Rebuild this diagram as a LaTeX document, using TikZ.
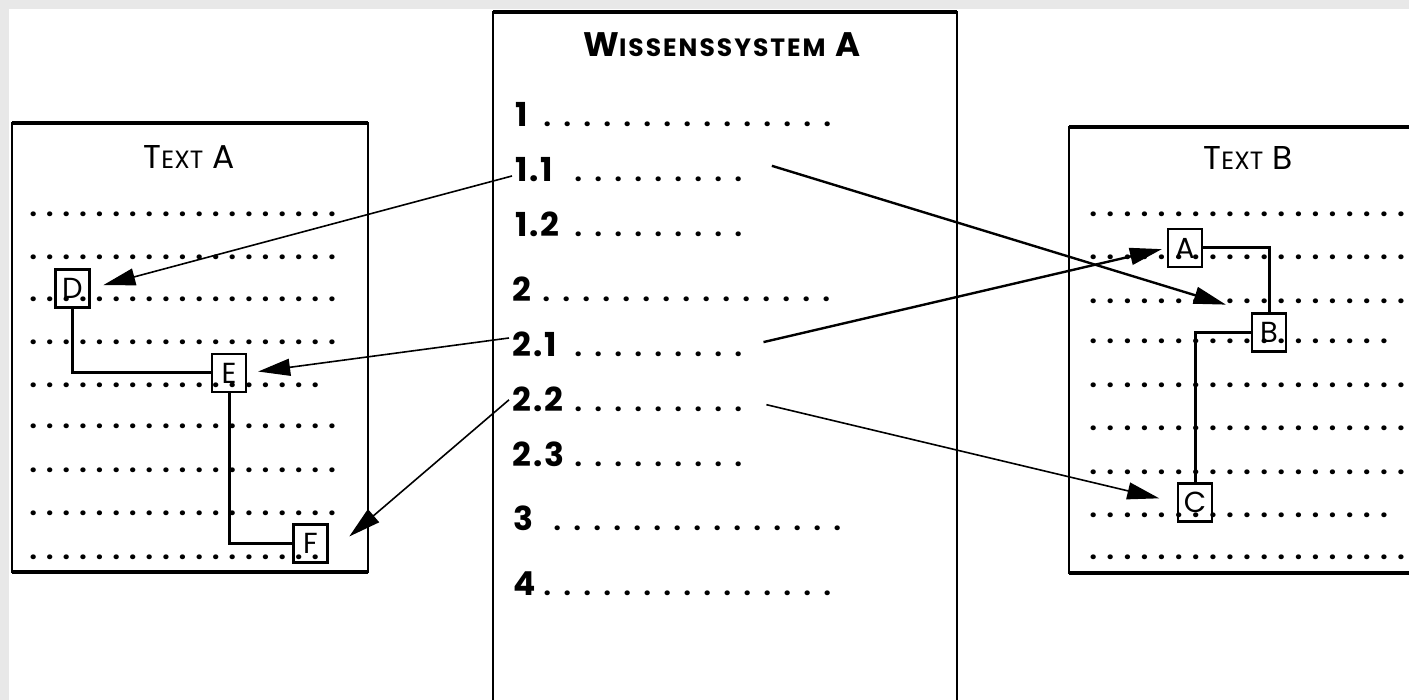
\documentclass[tikz,border=0pt]{standalone}
\usepackage{fontspec}
\setmainfont{Poppins}
\usepackage{tikz}
\usetikzlibrary{arrows.meta}
\definecolor{rand}{HTML}{E8E8E8}
% eine Zeile Punkte: #1 Anzahl, #2 Abstand
\newcommand\punkte[2]{\hbox to \dimexpr#2*#1+0.5pt\relax{\leaders\hbox to #2{\hss.\hss}\hfill}}
\newcommand\klein[1]{{\fontsize{25}{25}\selectfont #1}}

\begin{document}
\begin{tikzpicture}[x=1pt,y=-1pt,
  rahmen/.style={line width=2pt},
  kante/.style={line width=3.5pt},
  marke/.style={draw,line width=2.5pt,minimum width=34pt,minimum height=38pt,inner sep=0pt,font=\fontsize{29}{29}\selectfont},
  zeile/.style={anchor=base west,inner sep=0pt,font=\fontsize{26}{26}\bfseries},
  nummer/.style={anchor=base west,inner sep=3pt,font=\fontsize{33}{33}\bfseries\addfontfeature{LetterSpace=6}},
  pfeil/.style={line width=1.6pt,-{Triangle[length=32pt,width=17pt]}},
  dick/.style={line width=2.4pt},
  linie/.style={line width=3pt}]
  \useasboundingbox (0,0) rectangle (1409,700);
  \fill[rand] (0,0) rectangle (1409,700);
  \fill[white] (9,9) rectangle (1409,700);
  \clip (0,0) rectangle (1409,700);

  %Text A%
  \draw[rahmen] (12,123) rectangle (368,572);
  \draw[kante] (12,123) -- (368,123);
  \draw[kante] (12,572) -- (368,572);
  \node[anchor=base] (titelA) at (189,169) {\fontsize{33}{33}\selectfont T\klein{EXT} A};
  \foreach \y/\n [count=\i] in {215/19,258/19,300/19,343/19,386/18,427/19,470/19,513/19,557/18}
    \node[zeile] (ta\i) at (24.7,\y+2) {\punkte{\n}{16.6pt}};

  %Wissenssystem A%
  \draw[rahmen] (493,710) -- (493,12) -- (957,12) -- (957,710);
  \draw[kante] (493,12) -- (957,12);
  \node[anchor=base] (titelW) at (722,57) {\fontsize{34}{34}\bfseries\addfontfeature{LetterSpace=8}W\klein{ISSENSSYSTEM} A};
  \foreach \name/\txt/\x/\y/\s/\n in {1/1/515/127/537/15, 11/1.1/515/182/568/9, 12/1.2/515/237/568/9,
      2/2/512/302/536/15, 21/2.1/512/357/568/9, 22/2.2/512/412/568/9, 23/2.3/512/467/568/9,
      3/3/513/530/547/15, 4/4/513/595/537/15}
  {
    \node[nummer] (n\name) at (\x-3,\y) {\txt};
    \node[zeile,text height=23pt,text depth=0pt] (d\name) at (\s,\y) {\punkte{\n}{20pt}};
  }

  %Text B%
  \draw[rahmen] (1420,127) -- (1069,127) -- (1069,573) -- (1420,573);
  \draw[kante] (1069,127) -- (1420,127);
  \draw[kante] (1069,573) -- (1420,573);
  \node[anchor=base] (titelB) at (1248,170) {\fontsize{33}{33}\selectfont T\klein{EXT} B};
  \foreach \y/\n [count=\i] in {215/20,258/20,302/20,342/18,386/20,429/20,473/20,516/18,557/20}
    \node[zeile] (tb\i) at (1084.5,\y+2) {\punkte{\n}{17.1pt}};

  %Stellen im Text%
  \node[marke] (D) at (72.5,288.5) {D};
  \node[marke] (E) at (229,373) {E};
  \node[marke] (F) at (310.5,543.5) {F};
  \node[marke] (A) at (1185,248) {A};
  \node[marke] (B) at (1269,332.5) {B};
  \node[marke] (C) at (1195,502.5) {C};
  \draw[linie] (D) |- (E);
  \draw[linie] (E) |- (F);
  \draw[linie] (A) -| (B);
  \draw[linie] (B) -| (C);

  %Verweise%
  \draw[pfeil,shorten >=13pt] (n11) -- (D.east);
  \draw[pfeil,dick,shorten <=24pt,shorten >=26pt] (d11.north east) -- (B.north west);
  \draw[pfeil,dick,shorten <=15pt,shorten >=5pt] (d21.east) -- (A.west);
  \draw[pfeil,shorten >=11pt] (n21.165) -- (E.east);
  \draw[pfeil,shorten >=27pt] (n22.west) -- (F.-30);
  \draw[pfeil,shorten <=18pt,shorten >=18pt] (d22.east) -- (C.west);
\end{tikzpicture}
\end{document}
